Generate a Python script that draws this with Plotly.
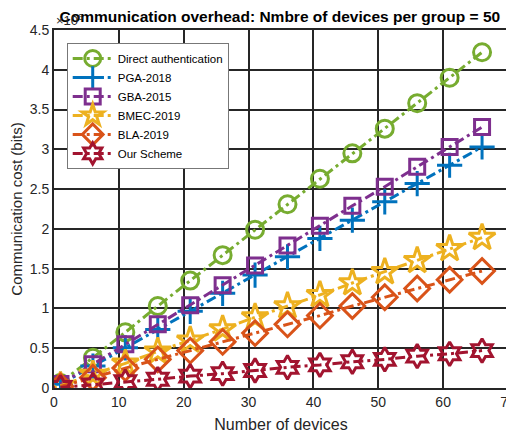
import plotly.graph_objects as go

devices = [1, 6, 11, 16, 21, 26, 31, 36, 41, 46, 51, 56, 61, 66]
direct_auth = [0.064, 0.38, 0.70, 1.03, 1.35, 1.67, 1.99, 2.31, 2.63, 2.95, 3.26, 3.58, 3.90, 4.22]
pga_2018 = [0.046, 0.275, 0.505, 0.735, 0.964, 1.19, 1.42, 1.65, 1.88, 2.11, 2.34, 2.57, 2.80, 3.03]
gba_2015 = [0.05, 0.30, 0.55, 0.80, 1.04, 1.29, 1.54, 1.79, 2.04, 2.29, 2.53, 2.78, 3.03, 3.28]
bmec_2019 = [0.03, 0.17, 0.31, 0.46, 0.60, 0.74, 0.89, 1.03, 1.17, 1.32, 1.46, 1.60, 1.75, 1.89]
bla_2019 = [0.02, 0.13, 0.25, 0.36, 0.47, 0.58, 0.69, 0.80, 0.91, 1.03, 1.14, 1.25, 1.36, 1.47]
our_scheme = [0.007, 0.04, 0.08, 0.11, 0.15, 0.18, 0.22, 0.26, 0.29, 0.33, 0.36, 0.40, 0.43, 0.47]

series = [
    ("Direct authentication", direct_auth, "#77AC30", "circle-open", 17),
    ("PGA-2018", pga_2018, "#0072BD", "cross-thin-open", 18),
    ("GBA-2015", gba_2015, "#7E2F8E", "square-open", 15),
    ("BMEC-2019", bmec_2019, "#EDB120", "star-open", 20),
    ("BLA-2019", bla_2019, "#D95319", "diamond-open", 19),
    ("Our Scheme", our_scheme, "#A2142F", "hexagram-open", 18),
]

fig = go.Figure()
for name, ys, color, sym, sz in series:
    fig.add_trace(go.Scatter(
        x=devices, y=ys, name=name, mode="lines+markers",
        line=dict(color=color, width=3, dash="10px,4px,3px,4px"),
        marker=dict(symbol=sym, size=sz, color=color, line=dict(color=color, width=3)),
    ))

axis_common = dict(
    showgrid=True, gridcolor="#262626", gridwidth=2,
    showline=True, linecolor="#262626", linewidth=2, mirror=True,
    ticks="outside", ticklen=0, zeroline=False, automargin=False,
    tickfont=dict(family="Arial, Liberation Sans", size=14, color="#262626"),
)

fig.update_layout(
    width=514, height=434,
    margin=dict(l=46, r=14, t=22, b=54),
    paper_bgcolor="white", plot_bgcolor="white",
    title=dict(text="<b>Communication overhead: Nmbre of devices per group = 50</b>",
               x=0.529, xanchor="center", y=0.981, yanchor="middle",
               font=dict(family="Arial, Liberation Sans", size=15.5, color="black")),
    xaxis=dict(range=[0, 70], tickvals=[0, 10, 20, 30, 40, 50, 60, 70],
               title=dict(text="Number of devices", standoff=10,
                          font=dict(family="Arial, Liberation Sans", size=16, color="#262626")),
               **axis_common),
    yaxis=dict(range=[0, 4.5], tickvals=[0, 0.5, 1, 1.5, 2, 2.5, 3, 3.5, 4, 4.5],
               ticktext=["0", "0.5", "1", "1.5", "2", "2.5", "3", "3.5", "4", "4.5"],
               title=dict(text="Communication cost (bits)", standoff=8,
                          font=dict(family="Arial, Liberation Sans", size=15, color="#262626")),
               **axis_common),
    legend=dict(x=0.028, y=0.964, xanchor="left", yanchor="top",
                bgcolor="white", bordercolor="#777777", borderwidth=1,
                font=dict(family="Arial, Liberation Sans", size=11.5, color="black"),
                tracegroupgap=0, itemwidth=40),
    showlegend=True,
    annotations=[dict(text="×10<sup>6</sup>", x=0, y=1.0, xref="paper", yref="paper",
                      xanchor="left", yanchor="bottom", showarrow=False,
                      font=dict(family="Arial, Liberation Sans", size=13, color="#262626"))],
)

fig.write_html("out.html")
